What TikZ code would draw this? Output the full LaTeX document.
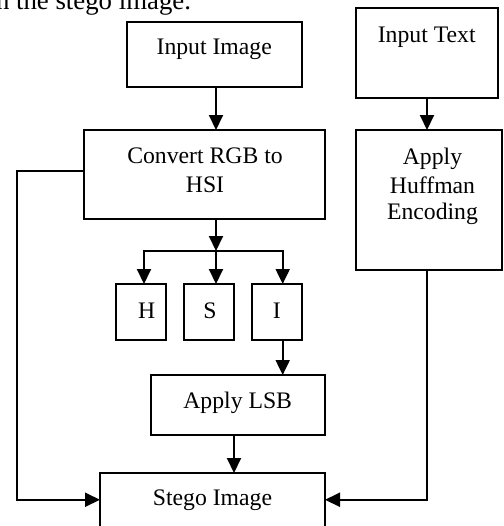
\documentclass[tikz,border=0pt]{standalone}
\usepackage{fontspec}
\setmainfont{Liberation Serif}
\usetikzlibrary{arrows.meta,calc}

\begin{document}
\begin{tikzpicture}[x=0.5pt,y=-0.5pt,
  font=\fontsize{11.85}{14.5}\selectfont,
  line width=1pt,
  box/.style={draw, rectangle, inner sep=0pt, outer sep=0pt},
  txt/.style={inner sep=0pt, outer sep=0pt, anchor=base},
  mtxt/.style={inner sep=0pt, outer sep=0pt, anchor=north, align=center},
  flow/.style={-{Triangle[length=7.5pt,width=7pt]}},
]
% page frame
\useasboundingbox (0,0) rectangle (504,526);
\fill[white] (0,0) rectangle (504,526);
\clip (0,0) rectangle (504,526);

% last line of the running text above the figure
\node[inner sep=0pt, anchor=base east, font=\fontsize{13.4}{16}\selectfont]
  (para) at (192,9.3) {in the stego image.};

% boxes
\node[box, minimum width=87.5pt, minimum height=32.5pt] (inimg)  at (214.5,54.5) {};
\node[box, minimum width=71pt,   minimum height=45pt]   (intext) at (427,53) {};
\node[box, minimum width=120.5pt,minimum height=44.5pt] (conv)   at (204.5,174.5) {};
\node[box, minimum width=73pt,   minimum height=70pt]   (huff)   at (429,200) {};
\node[box, minimum width=25pt,   minimum height=28pt]   (H)      at (141,312) {};
\node[box, minimum width=25pt,   minimum height=28pt]   (S)      at (209,312) {};
\node[box, minimum width=25pt,   minimum height=28pt]   (I)      at (276.7,312) {};
\node[box, minimum width=87pt,   minimum height=30pt]   (lsb)    at (238,405) {};
\node[box, minimum width=112.5pt,minimum height=26.75pt] (stego) at (212.5,499.75) {};

% box texts
\node[txt] (inimg-t)  at (214.2,54)   {Input Image};
\node[txt] (intext-t) at (426.7,42.7) {Input Text};
\node[mtxt] (conv-t)  at (205,148)    {Convert RGB to\\HSI};
\node[mtxt] (huff-t)  at (432.5,147.8) {Apply\\Huffman\\[-1.5pt]Encoding};
\node[txt] (H-t)      at (146.7,318)  {H};
\node[txt] (S-t)      at (210,318)    {S};
\node[txt] (I-t)      at (276.7,318)  {I};
\node[txt] (lsb-t)    at (237.7,408.3) {Apply LSB};
\node[txt] (stego-t)  at (212.5,505)  {Stego Image};

% connectors
\coordinate (split) at (216,251);
\coordinate (Iout) at ($(I.south)+(6,0)$);
\coordinate (lsbout) at ($(lsb.south)+(-4,0)$);
\coordinate (convout) at ($(conv.west)+(0,-3.5)$);

\draw[flow] (inimg.south -| split) -- (conv.north -| split);
\draw[flow] (intext.south) -- (intext.south |- huff.north);
\draw[flow] (conv.south -| split) -- (split);
\draw[flow] (split) -| ($(H.north)+(3,0)$);
\draw[flow] (split) -- (split |- S.north);
\draw[flow] (split) -| ($(I.north)+(6,0)$);
\draw[flow] (Iout) -- (Iout |- lsb.north);
\draw[flow] (lsbout) -- (lsbout |- stego.north);
\draw[flow] (convout) -- ++(-67.3,0) |- (stego.west);
\draw[flow] (intext.south |- huff.south) |- (stego.east);
\end{tikzpicture}
\end{document}
